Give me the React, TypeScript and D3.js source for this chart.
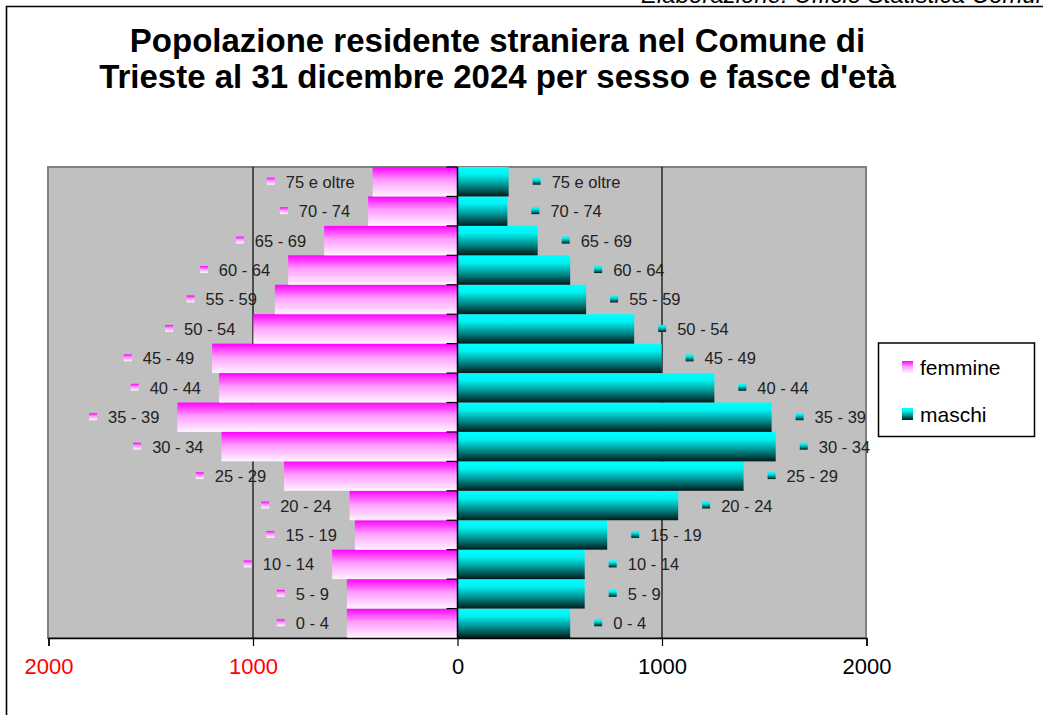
import React, { useEffect, useRef } from 'react';
import * as d3 from 'd3';

// age classes, bottom to top
const ageClasses = ['0 - 4', '5 - 9', '10 - 14', '15 - 19', '20 - 24', '25 - 29', '30 - 34', '35 - 39',
    '40 - 44', '45 - 49', '50 - 54', '55 - 59', '60 - 64', '65 - 69', '70 - 74', '75 e oltre'];
const femmine = [541, 541, 613, 502, 528, 848, 1154, 1370, 1166, 1200, 998, 893, 828, 652, 437, 415];
const maschi = [551, 622, 622, 732, 1079, 1399, 1556, 1536, 1256, 998, 864, 629, 551, 392, 244, 250];
const xTicks = [-2000, -1000, 0, 1000, 2000];
const titleLines = ['Popolazione residente straniera nel Comune di', "Trieste al 31 dicembre 2024 per sesso e fasce d'età"];
const sourceNote = 'Elaborazione: Ufficio Statistica Comunale';
const seriesNames = ['femmine', 'maschi'];

export default function App() {
    const svgRef = useRef<SVGSVGElement>(null);

    useEffect(() => {
        const svg = d3.select(svgRef.current);
        svg.selectAll('*').remove();

        const width = 1043;
        const height = 715;
        const plot = { left: 48, right: 866, top: 167, bottom: 638 };
        const font = 'Liberation Sans, Arial, sans-serif';

        svg.attr('width', width).attr('height', height);

        // gradients
        const defs = svg.append('defs');
        const gF = defs.append('linearGradient').attr('id', 'gradF').attr('x1', 0).attr('y1', 0).attr('x2', 0).attr('y2', 1);
        gF.append('stop').attr('offset', 0).attr('stop-color', '#ff00ff');
        gF.append('stop').attr('offset', 0.45).attr('stop-color', '#ff9cff');
        gF.append('stop').attr('offset', 1).attr('stop-color', '#fff4ff');
        const gM = defs.append('linearGradient').attr('id', 'gradM').attr('x1', 0).attr('y1', 0).attr('x2', 0).attr('y2', 1);
        gM.append('stop').attr('offset', 0).attr('stop-color', '#00ffff');
        gM.append('stop').attr('offset', 0.25).attr('stop-color', '#00f2f2');
        gM.append('stop').attr('offset', 0.6).attr('stop-color', '#009595');
        gM.append('stop').attr('offset', 1).attr('stop-color', '#001a1a');

        svg.append('rect').attr('width', width).attr('height', height).attr('fill', '#fff');

        // source note (cut at the top edge) and frame
        svg.append('text')
            .attr('x', 641).attr('y', 3)
            .attr('font-family', font).attr('font-size', 24).attr('font-style', 'italic')
            .text(sourceNote);
        svg.append('path')
            .attr('d', `M6.5,${height + 5} V6.5 H${width + 5}`)
            .attr('fill', 'none').attr('stroke', '#000').attr('stroke-width', 1.6);

        // title
        svg.append('g').selectAll('text')
            .data(titleLines)
            .enter()
            .append('text')
            .attr('x', 497.5)
            .attr('y', (d, i) => 52 + i * 36)
            .attr('text-anchor', 'middle')
            .attr('font-family', font).attr('font-size', 33).attr('font-weight', 'bold')
            .text(d => d);

        const xScale = d3.scaleLinear().domain([-2000, 2000]).range([plot.left + 0.5, plot.right + 0.5]);
        const yScale = d3.scaleBand().domain(ageClasses.slice().reverse()).range([plot.top, plot.bottom]).padding(0);
        const x0 = xScale(0);

        // plot area
        svg.append('rect')
            .attr('x', plot.left).attr('y', plot.top)
            .attr('width', plot.right - plot.left).attr('height', plot.bottom - plot.top)
            .attr('fill', '#c0c0c0').attr('stroke', '#808080').attr('stroke-width', 2);

        // gridlines
        svg.append('g').selectAll('line')
            .data([-1000, 1000])
            .enter()
            .append('line')
            .attr('x1', d => xScale(d)).attr('x2', d => xScale(d))
            .attr('y1', plot.top).attr('y2', plot.bottom)
            .attr('stroke', '#000').attr('stroke-width', 1.2);

        const rows = ageClasses.map((a, i) => ({ age: a, f: femmine[i], m: maschi[i] }));

        // bars
        svg.append('g').selectAll('rect')
            .data(rows)
            .enter()
            .append('rect')
            .attr('x', d => xScale(-d.f))
            .attr('y', d => yScale(d.age)!)
            .attr('width', d => x0 - xScale(-d.f))
            .attr('height', yScale.bandwidth())
            .attr('fill', 'url(#gradF)');
        svg.append('g').selectAll('rect')
            .data(rows)
            .enter()
            .append('rect')
            .attr('x', x0)
            .attr('y', d => yScale(d.age)!)
            .attr('width', d => xScale(d.m) - x0)
            .attr('height', yScale.bandwidth())
            .attr('fill', 'url(#gradM)');

        // category axis at zero
        svg.append('line')
            .attr('x1', x0).attr('x2', x0).attr('y1', plot.top).attr('y2', plot.bottom)
            .attr('stroke', '#000').attr('stroke-width', 1.5);
        svg.append('g').selectAll('line')
            .data(ageClasses)
            .enter()
            .append('line')
            .attr('x1', x0 - 11).attr('x2', x0)
            .attr('y1', d => yScale(d)!).attr('y2', d => yScale(d)!)
            .attr('stroke', '#000').attr('stroke-width', 1.2);

        // value axis
        const xAxis = svg.append('g')
            .attr('transform', `translate(0,${plot.bottom})`)
            .call(d3.axisBottom(xScale).tickValues(xTicks).tickSize(8).tickPadding(12).tickFormat(d => String(Math.abs(+d))));
        xAxis.select('.domain').attr('stroke', '#000').attr('stroke-width', 1.5);
        xAxis.selectAll('line').attr('stroke', '#000').attr('stroke-width', 1.2);
        xAxis.selectAll('text')
            .attr('font-family', font).attr('font-size', 22)
            .attr('fill', d => (+d < 0 ? '#ff0000' : '#000'));

        // data labels with legend keys
        const labelFont = 16.5;
        const fLabels = svg.append('g').selectAll('g')
            .data(rows)
            .enter()
            .append('g')
            .attr('transform', d => `translate(${xScale(-d.f) - 18},${yScale(d.age)! + yScale.bandwidth() / 2})`);
        fLabels.append('text')
            .attr('text-anchor', 'end').attr('y', 6)
            .attr('font-family', font).attr('font-size', labelFont).attr('fill', '#222')
            .text(d => d.age);
        fLabels.each(function () {
            const g = d3.select(this);
            const w = (g.select('text').node() as SVGTextElement).getComputedTextLength();
            g.insert('rect', 'text')
                .attr('x', -w - 19).attr('y', -4).attr('width', 8).attr('height', 7)
                .attr('fill', 'url(#gradF)');
        });

        const mLabels = svg.append('g').selectAll('g')
            .data(rows)
            .enter()
            .append('g')
            .attr('transform', d => `translate(${xScale(d.m) + 24},${yScale(d.age)! + yScale.bandwidth() / 2})`);
        mLabels.append('rect')
            .attr('x', 0).attr('y', -4).attr('width', 8).attr('height', 7)
            .attr('fill', 'url(#gradM)');
        mLabels.append('text')
            .attr('x', 19).attr('y', 6)
            .attr('font-family', font).attr('font-size', labelFont).attr('fill', '#222')
            .text(d => d.age);

        // legend
        const legend = svg.append('g');
        legend.append('rect')
            .attr('x', 878.5).attr('y', 343).attr('width', 156).attr('height', 93.5)
            .attr('fill', '#fff').attr('stroke', '#000').attr('stroke-width', 1.5);
        const items = legend.selectAll('g.item')
            .data(seriesNames)
            .enter()
            .append('g')
            .attr('class', 'item')
            .attr('transform', (d, i) => `translate(902,${367 + i * 47})`);
        items.append('rect')
            .attr('x', 0).attr('y', -6).attr('width', 11).attr('height', 12)
            .attr('fill', (d, i) => (i === 0 ? 'url(#gradF)' : 'url(#gradM)'));
        items.append('text')
            .attr('x', 18).attr('y', 7.5)
            .attr('font-family', font).attr('font-size', 21)
            .text(d => d);
    }, []);

    return (
        <svg ref={svgRef} style={{ position: 'absolute', left: 0, top: 0, display: 'block' }}></svg>
    );
}
